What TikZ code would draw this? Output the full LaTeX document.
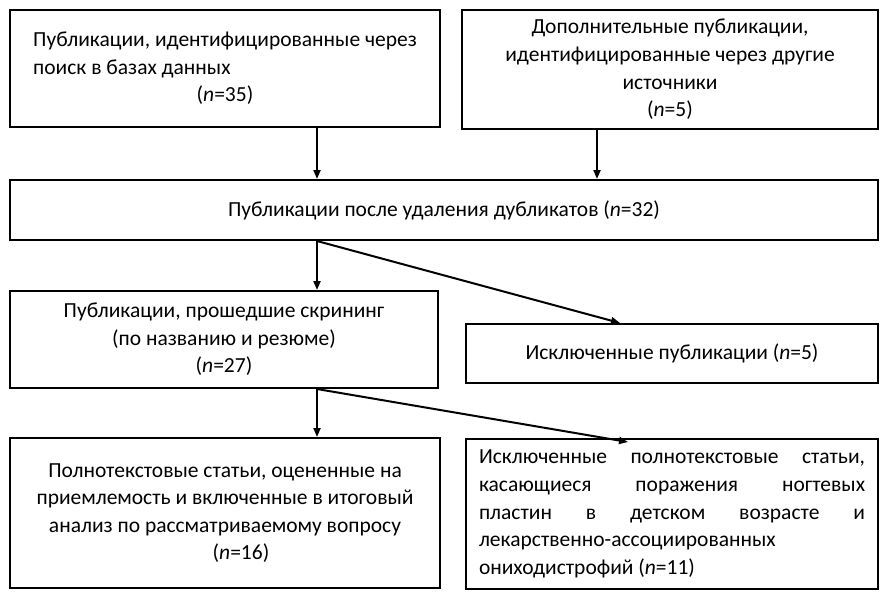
\documentclass[tikz,border=0pt]{standalone}
\usepackage{fontspec}
\setmainfont{Carlito}
\usetikzlibrary{positioning, arrows.meta}

\begin{document}
\begin{tikzpicture}[x=0.5pt, y=-0.5pt]
    \tikzstyle{block} = [rectangle, draw=black, line width=1pt, inner sep=0pt, font=\fontsize{10.75pt}{13.8pt}\selectfont]
    \tikzstyle{arrow} = [line width=1pt, -{Triangle[length=4.5pt, width=3.5pt]}]

    \useasboundingbox (0,0) rectangle (886,594);

    % columns of the arrows
    \coordinate (colL) at (317,0);
    \coordinate (colR) at (597,0);
    \coordinate (tipA) at (620,0);
    \coordinate (tipB) at (628,442);

    \node [block, minimum width=215pt, minimum height=58.5pt] (dbsearch) at (225,68.5)
        {\begin{tabular}{@{}l@{}}Публикации, идентифицированные через\\поиск в базах данных\\\multicolumn{1}{@{}c@{}}{(\textit{n}=35)}\end{tabular}};
    \node [block, minimum width=208pt, minimum height=59.5pt, align=center] (othersrc) at (670,69.5)
        {Дополнительные публикации,\\идентифицированные через другие\\источники\\(\textit{n}=5)};
    \node [block, minimum width=434pt, minimum height=30pt] (dedup) at (444,210)
        {Публикации после удаления дубликатов (\textit{n}=32)};
    \node [block, minimum width=214pt, minimum height=48.5pt, align=center] (screened) at (224,339.5)
        {Публикации, прошедшие скрининг\\(по названию и резюме)\\(\textit{n}=27)};
    \node [block, minimum width=206pt, minimum height=29.5pt] (excluded) at (672,353.5)
        {Исключенные публикации (\textit{n}=5)};
    \node [block, minimum width=215pt, minimum height=75pt, align=center] (fulltext) at (225,513)
        {Полнотекстовые статьи, оцененные на\\приемлемость и включенные в итоговый\\анализ по рассматриваемому вопросу\\\hspace*{16pt}(\textit{n}=16)};
    \node [block, minimum width=206pt, minimum height=75pt, text width=193pt, align=justify] (fullexcl) at (672,514)
        {Исключенные полнотекстовые статьи,\linebreak касающиеся поражения ногтевых\linebreak пластин в детском возрасте и\linebreak лекарственно-ассоциированных\newline ониходистрофий (\textit{n}=11)};

    \draw [arrow] (dbsearch.south -| colL) -- (dedup.north -| colL);
    \draw [arrow] (othersrc.south -| colR) -- (dedup.north -| colR);
    \draw [arrow] (dedup.south -| colL) -- (screened.north -| colL);
    \draw [arrow] (dedup.south -| colL) -- (excluded.north -| tipA);
    \draw [arrow] (screened.south -| colL) -- (fulltext.north -| colL);
    \draw [arrow] (screened.south -| colL) -- (tipB);
\end{tikzpicture}
\end{document}
